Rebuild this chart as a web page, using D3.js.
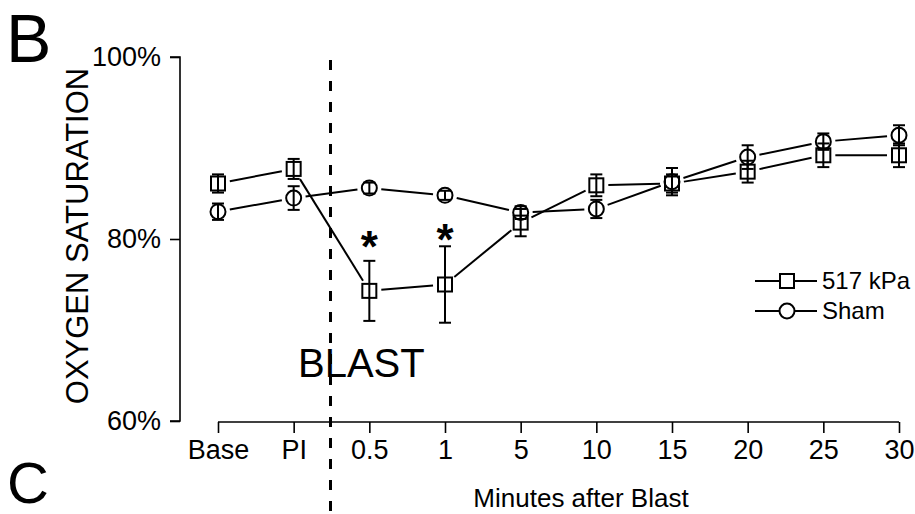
<!DOCTYPE html>
<html>
<head>
<meta charset="utf-8">
<script src="https://cdn.jsdelivr.net/npm/d3@7"></script>
<style>
  body { margin: 0; background: #fff; }
  svg { display: block; font-family: "Liberation Sans", Arial, sans-serif; }
</style>
</head>
<body>
<div id="container"></div>
<script>
// time points on the x axis
const categories = ["Base", "PI", "0.5", "1", "5", "10", "15", "20", "25", "30"];

// 517 kPa group (mean % and error)
const kpaMean = [86.1, 87.7, 74.3, 75.0, 81.8, 85.9, 86.1, 87.4, 89.2, 89.2];
const kpaErr  = [1.0, 1.1, 3.3, 4.2, 1.5, 1.2, 1.0, 1.2, 1.3, 1.3];

// sham group
const shamMean = [83.0, 84.5, 85.6, 84.8, 82.9, 83.3, 86.3, 89.0, 90.7, 91.4];
const shamErr  = [0.9, 1.3, 0.6, 0.5, 0.7, 1.0, 1.5, 1.3, 0.9, 1.1];

// y axis ticks
const yTicks = [60, 80, 100];

// significance stars
const sigCats = ["0.5", "1"];
const sigY = [79.9, 80.7];

const width = 915;
const height = 514;

const svg = d3.select("#container").append("svg")
  .attr("width", width)
  .attr("height", height);

const x = d3.scalePoint()
  .domain(categories)
  .range([218, 899]);

const y = d3.scaleLinear()
  .domain([60, 100])
  .range([421, 57]);

// panel letters
svg.append("text")
  .attr("x", 6).attr("y", 62)
  .attr("font-size", 68)
  .text("B");

svg.append("text")
  .attr("x", 7).attr("y", 503)
  .attr("font-size", 58)
  .text("C");

// y axis
const yAxis = svg.append("g")
  .attr("transform", "translate(180,0)")
  .call(d3.axisLeft(y).tickValues(yTicks).tickSize(10).tickPadding(9)
    .tickFormat(d => d + "%"));
yAxis.select(".domain").attr("d", `M-10,${y(100)}H0V${y(60)}H-10`).attr("stroke-width", 1.6);
yAxis.selectAll(".tick line").attr("stroke-width", 1.6);
yAxis.selectAll(".tick text").attr("font-size", 27).attr("font-family", null);

svg.append("text")
  .attr("transform", "translate(88,236) rotate(-90)")
  .attr("text-anchor", "middle")
  .attr("font-size", 31)
  .text("OXYGEN SATURATION");

// x axis
const xAxis = svg.append("g")
  .attr("transform", "translate(0,422)")
  .call(d3.axisBottom(x).tickSize(11).tickSizeOuter(0).tickPadding(7));
xAxis.select(".domain").attr("d", `M${x.range()[0]},0H${x.range()[1]}`).attr("stroke-width", 1.6);
xAxis.selectAll(".tick line").attr("stroke-width", 1.6);
xAxis.selectAll(".tick text").attr("font-size", 27).attr("font-family", null);

svg.append("text")
  .attr("x", 581).attr("y", 507)
  .attr("text-anchor", "middle")
  .attr("font-size", 26)
  .text("Minutes after Blast");

// blast marker
const blastX = (x("PI") + x("0.5")) / 2 - 1;
svg.append("line")
  .attr("x1", blastX).attr("x2", blastX)
  .attr("y1", 60).attr("y2", height)
  .attr("stroke", "#000")
  .attr("stroke-width", 3)
  .attr("stroke-dasharray", "10,11");

svg.append("text")
  .attr("x", 298).attr("y", 377)
  .attr("font-size", 40)
  .text("BLAST");

const series = [
  { name: "517 kPa", mean: kpaMean, err: kpaErr, shape: "square" },
  { name: "Sham", mean: shamMean, err: shamErr, shape: "circle" }
];

const gap = 12;
const capW = 6;

series.forEach(s => {
  const pts = categories.map((c, i) => ({ c, v: s.mean[i], e: s.err[i] }));
  const g = svg.append("g")
    .attr("stroke", "#000")
    .attr("stroke-width", 2)
    .attr("fill", "none");

  // connecting segments with a gap around each point
  const segs = d3.pairs(pts).map(([a, b]) => {
    const x0 = x(a.c), y0 = y(a.v), x1 = x(b.c), y1 = y(b.v);
    const len = Math.hypot(x1 - x0, y1 - y0);
    const ux = (x1 - x0) / len, uy = (y1 - y0) / len;
    return [x0 + ux * gap, y0 + uy * gap, x1 - ux * gap, y1 - uy * gap];
  });
  g.selectAll("line.seg").data(segs).join("line")
    .attr("class", "seg")
    .attr("x1", d => d[0]).attr("y1", d => d[1])
    .attr("x2", d => d[2]).attr("y2", d => d[3]);

  // error bars
  const eb = g.selectAll("g.err").data(pts).join("g").attr("class", "err");
  eb.append("line")
    .attr("x1", d => x(d.c)).attr("x2", d => x(d.c))
    .attr("y1", d => y(d.v - d.e)).attr("y2", d => y(d.v + d.e));
  eb.append("line")
    .attr("x1", d => x(d.c) - capW).attr("x2", d => x(d.c) + capW)
    .attr("y1", d => y(d.v + d.e)).attr("y2", d => y(d.v + d.e));
  eb.append("line")
    .attr("x1", d => x(d.c) - capW).attr("x2", d => x(d.c) + capW)
    .attr("y1", d => y(d.v - d.e)).attr("y2", d => y(d.v - d.e));

  // markers
  if (s.shape === "square") {
    g.selectAll("rect").data(pts).join("rect")
      .attr("x", d => x(d.c) - 7).attr("y", d => y(d.v) - 7)
      .attr("width", 14).attr("height", 14);
  } else {
    g.selectAll("circle").data(pts).join("circle")
      .attr("cx", d => x(d.c)).attr("cy", d => y(d.v))
      .attr("r", 7.5);
  }
});

// significance stars
svg.selectAll("text.sig").data(sigCats).join("text")
  .attr("class", "sig")
  .attr("x", d => x(d))
  .attr("y", (d, i) => y(sigY[i]) + 22)
  .attr("text-anchor", "middle")
  .attr("font-size", 44)
  .attr("font-weight", "bold")
  .text("*");

// legend
const legend = svg.append("g").attr("transform", "translate(755,0)");
series.forEach((s, i) => {
  const cy = 281 + i * 30;
  const row = legend.append("g").attr("stroke", "#000").attr("stroke-width", 2).attr("fill", "none");
  row.append("line").attr("x1", 0).attr("x2", 24).attr("y1", cy).attr("y2", cy);
  row.append("line").attr("x1", 40).attr("x2", 62).attr("y1", cy).attr("y2", cy);
  if (s.shape === "square") {
    row.append("rect").attr("x", 25).attr("y", cy - 7).attr("width", 14).attr("height", 14);
  } else {
    row.append("circle").attr("cx", 32).attr("cy", cy).attr("r", 7.5);
  }
  legend.append("text")
    .attr("x", 67).attr("y", cy + 8)
    .attr("font-size", 24)
    .text(s.name);
});
</script>
</body>
</html>
